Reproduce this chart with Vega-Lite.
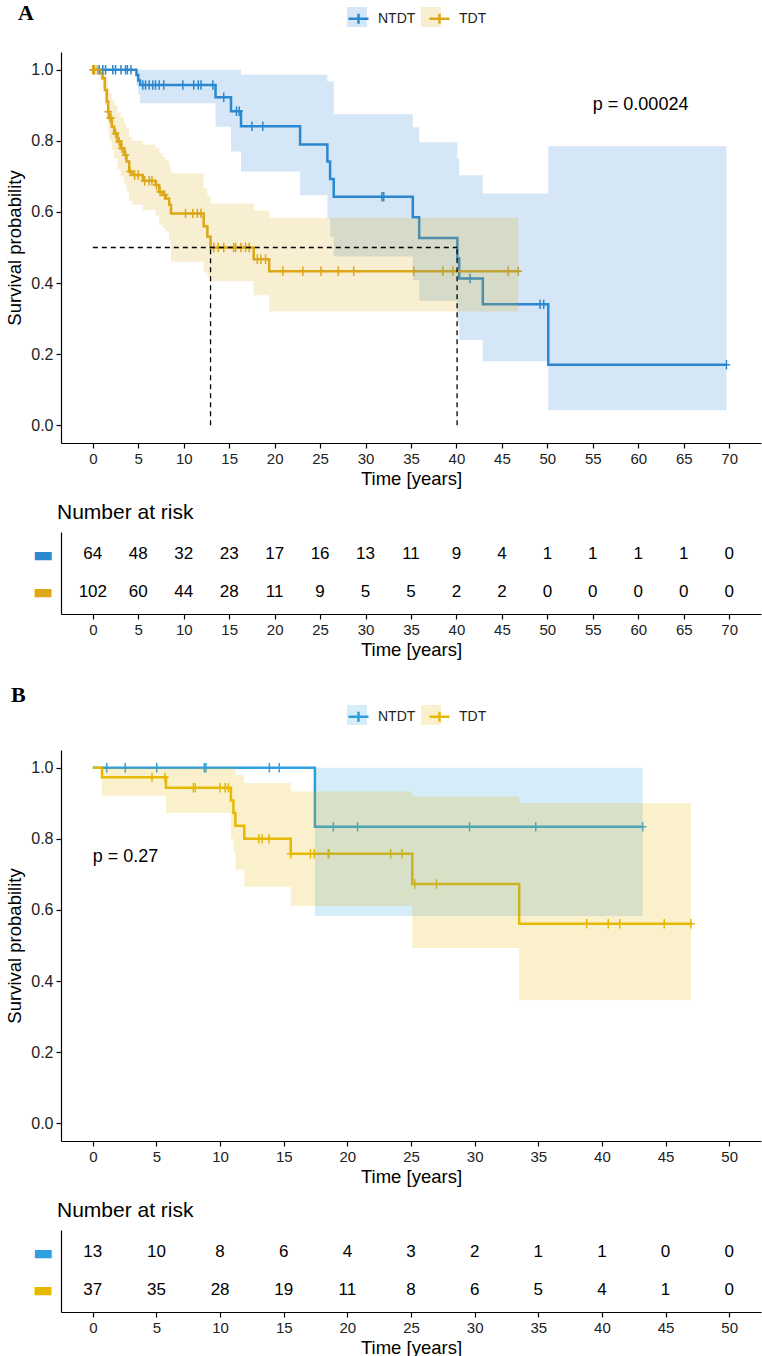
{
  "$schema": "https://vega.github.io/schema/vega-lite/v6.json",
  "padding": {"left": 5, "top": 2, "right": 2, "bottom": 1},
  "background": "white",
  "config": {
    "view": {"stroke": null},
    "font": "Liberation Sans",
    "axis": {"domainColor": "black", "domainWidth": 1.2, "tickColor": "black", "tickWidth": 1.2, "tickSize": 5, "labelFontSize": 15, "labelColor": "#222222", "labelFont": "Liberation Sans", "titleFont": "Liberation Sans", "titleFontSize": 18.5, "titleFontWeight": "normal", "titleColor": "black", "grid": false, "labelPadding": 3, "titlePadding": 3},
    "legend": {"labelFont": "Liberation Sans", "labelFontSize": 14, "labelColor": "#222222"}
  },
  "datasets": {
    "kmA": [
      {"group": "NTDT", "t": 0, "S": 1, "lo": 1, "hi": 1},
      {"group": "NTDT", "t": 4.8, "S": 0.985, "lo": 0.955, "hi": 1},
      {"group": "NTDT", "t": 5.0, "S": 0.97, "lo": 0.93, "hi": 1},
      {"group": "NTDT", "t": 5.2, "S": 0.957, "lo": 0.906, "hi": 1},
      {"group": "NTDT", "t": 13.5, "S": 0.923, "lo": 0.84, "hi": 1},
      {"group": "NTDT", "t": 15.2, "S": 0.883, "lo": 0.77, "hi": 1},
      {"group": "NTDT", "t": 16.3, "S": 0.841, "lo": 0.714, "hi": 0.986},
      {"group": "NTDT", "t": 22.8, "S": 0.79, "lo": 0.647, "hi": 0.986},
      {"group": "NTDT", "t": 25.8, "S": 0.742, "lo": 0.582, "hi": 0.967},
      {"group": "NTDT", "t": 26.1, "S": 0.693, "lo": 0.53, "hi": 0.967},
      {"group": "NTDT", "t": 26.5, "S": 0.643, "lo": 0.475, "hi": 0.875},
      {"group": "NTDT", "t": 35.2, "S": 0.585, "lo": 0.408, "hi": 0.838},
      {"group": "NTDT", "t": 35.9, "S": 0.527, "lo": 0.35, "hi": 0.796},
      {"group": "NTDT", "t": 40.1, "S": 0.47, "lo": 0.29, "hi": 0.75},
      {"group": "NTDT", "t": 40.3, "S": 0.413, "lo": 0.24, "hi": 0.703},
      {"group": "NTDT", "t": 42.9, "S": 0.34, "lo": 0.18, "hi": 0.652},
      {"group": "NTDT", "t": 50.1, "S": 0.17, "lo": 0.042, "hi": 0.785},
      {"group": "NTDT", "t": 69.7, "S": 0.17, "lo": 0.042, "hi": 0.785},
      {"group": "TDT", "t": 0, "S": 1, "lo": 1, "hi": 1},
      {"group": "TDT", "t": 0.8, "S": 0.99, "lo": 0.97, "hi": 1},
      {"group": "TDT", "t": 1.07, "S": 0.976, "lo": 0.95, "hi": 1},
      {"group": "TDT", "t": 1.32, "S": 0.943, "lo": 0.9, "hi": 0.99},
      {"group": "TDT", "t": 1.54, "S": 0.91, "lo": 0.86, "hi": 0.97},
      {"group": "TDT", "t": 1.69, "S": 0.882, "lo": 0.83, "hi": 0.95},
      {"group": "TDT", "t": 1.8, "S": 0.864, "lo": 0.8, "hi": 0.935},
      {"group": "TDT", "t": 2.09, "S": 0.84, "lo": 0.775, "hi": 0.915},
      {"group": "TDT", "t": 2.35, "S": 0.821, "lo": 0.75, "hi": 0.9},
      {"group": "TDT", "t": 2.71, "S": 0.798, "lo": 0.72, "hi": 0.88},
      {"group": "TDT", "t": 3.08, "S": 0.779, "lo": 0.7, "hi": 0.865},
      {"group": "TDT", "t": 3.45, "S": 0.76, "lo": 0.68, "hi": 0.85},
      {"group": "TDT", "t": 3.7, "S": 0.742, "lo": 0.66, "hi": 0.835},
      {"group": "TDT", "t": 4.0, "S": 0.714, "lo": 0.63, "hi": 0.81},
      {"group": "TDT", "t": 4.37, "S": 0.704, "lo": 0.62, "hi": 0.8},
      {"group": "TDT", "t": 5.5, "S": 0.688, "lo": 0.605, "hi": 0.79},
      {"group": "TDT", "t": 6.9, "S": 0.676, "lo": 0.59, "hi": 0.78},
      {"group": "TDT", "t": 7.3, "S": 0.657, "lo": 0.565, "hi": 0.765},
      {"group": "TDT", "t": 7.7, "S": 0.648, "lo": 0.555, "hi": 0.755},
      {"group": "TDT", "t": 8.0, "S": 0.638, "lo": 0.545, "hi": 0.745},
      {"group": "TDT", "t": 8.4, "S": 0.62, "lo": 0.52, "hi": 0.73},
      {"group": "TDT", "t": 8.6, "S": 0.596, "lo": 0.46, "hi": 0.709},
      {"group": "TDT", "t": 12.2, "S": 0.56, "lo": 0.43, "hi": 0.667},
      {"group": "TDT", "t": 12.6, "S": 0.53, "lo": 0.415, "hi": 0.645},
      {"group": "TDT", "t": 12.95, "S": 0.5, "lo": 0.405, "hi": 0.624},
      {"group": "TDT", "t": 17.7, "S": 0.467, "lo": 0.366, "hi": 0.604},
      {"group": "TDT", "t": 19.4, "S": 0.433, "lo": 0.32, "hi": 0.584},
      {"group": "TDT", "t": 46.8, "S": 0.433, "lo": 0.32, "hi": 0.584}
    ],
    "censA": [
      {"group": "NTDT", "t": 0.1, "S": 1}, {"group": "NTDT", "t": 0.7, "S": 1}, {"group": "NTDT", "t": 1.1, "S": 1}, {"group": "NTDT", "t": 1.4, "S": 1},
      {"group": "NTDT", "t": 2.2, "S": 1}, {"group": "NTDT", "t": 2.5, "S": 1}, {"group": "NTDT", "t": 3.1, "S": 1}, {"group": "NTDT", "t": 3.6, "S": 1},
      {"group": "NTDT", "t": 3.8, "S": 1}, {"group": "NTDT", "t": 4.2, "S": 1},
      {"group": "NTDT", "t": 5.5, "S": 0.957}, {"group": "NTDT", "t": 5.8, "S": 0.957}, {"group": "NTDT", "t": 6.2, "S": 0.957}, {"group": "NTDT", "t": 6.6, "S": 0.957},
      {"group": "NTDT", "t": 6.9, "S": 0.957}, {"group": "NTDT", "t": 7.3, "S": 0.957}, {"group": "NTDT", "t": 7.8, "S": 0.957}, {"group": "NTDT", "t": 9.9, "S": 0.957},
      {"group": "NTDT", "t": 11.1, "S": 0.957}, {"group": "NTDT", "t": 11.6, "S": 0.957}, {"group": "NTDT", "t": 11.9, "S": 0.957}, {"group": "NTDT", "t": 13.2, "S": 0.957},
      {"group": "NTDT", "t": 14.4, "S": 0.923}, {"group": "NTDT", "t": 15.8, "S": 0.883}, {"group": "NTDT", "t": 16.1, "S": 0.883},
      {"group": "NTDT", "t": 17.5, "S": 0.841}, {"group": "NTDT", "t": 18.7, "S": 0.841},
      {"group": "NTDT", "t": 31.8, "S": 0.643}, {"group": "NTDT", "t": 32.0, "S": 0.643},
      {"group": "NTDT", "t": 41.5, "S": 0.413}, {"group": "NTDT", "t": 49.2, "S": 0.34}, {"group": "NTDT", "t": 49.6, "S": 0.34}, {"group": "NTDT", "t": 69.7, "S": 0.17},
      {"group": "TDT", "t": 0.0, "S": 1}, {"group": "TDT", "t": 0.2, "S": 1}, {"group": "TDT", "t": 0.5, "S": 1},
      {"group": "TDT", "t": 1.7, "S": 0.882}, {"group": "TDT", "t": 1.9, "S": 0.864}, {"group": "TDT", "t": 2.0, "S": 0.864}, {"group": "TDT", "t": 2.5, "S": 0.821},
      {"group": "TDT", "t": 2.9, "S": 0.798}, {"group": "TDT", "t": 3.2, "S": 0.779}, {"group": "TDT", "t": 3.6, "S": 0.76}, {"group": "TDT", "t": 4.1, "S": 0.714},
      {"group": "TDT", "t": 4.6, "S": 0.704}, {"group": "TDT", "t": 5.0, "S": 0.704}, {"group": "TDT", "t": 5.7, "S": 0.688}, {"group": "TDT", "t": 6.2, "S": 0.688},
      {"group": "TDT", "t": 6.5, "S": 0.688}, {"group": "TDT", "t": 7.0, "S": 0.676}, {"group": "TDT", "t": 7.4, "S": 0.657}, {"group": "TDT", "t": 7.9, "S": 0.648},
      {"group": "TDT", "t": 10.2, "S": 0.596}, {"group": "TDT", "t": 11.0, "S": 0.596}, {"group": "TDT", "t": 11.5, "S": 0.596}, {"group": "TDT", "t": 11.9, "S": 0.596},
      {"group": "TDT", "t": 13.3, "S": 0.5}, {"group": "TDT", "t": 13.8, "S": 0.5}, {"group": "TDT", "t": 14.4, "S": 0.5}, {"group": "TDT", "t": 15.5, "S": 0.5},
      {"group": "TDT", "t": 15.7, "S": 0.5}, {"group": "TDT", "t": 16.3, "S": 0.5}, {"group": "TDT", "t": 16.8, "S": 0.5}, {"group": "TDT", "t": 17.2, "S": 0.5},
      {"group": "TDT", "t": 18.1, "S": 0.467}, {"group": "TDT", "t": 18.5, "S": 0.467}, {"group": "TDT", "t": 19.0, "S": 0.467},
      {"group": "TDT", "t": 20.9, "S": 0.433}, {"group": "TDT", "t": 23.1, "S": 0.433}, {"group": "TDT", "t": 25.1, "S": 0.433}, {"group": "TDT", "t": 27.0, "S": 0.433},
      {"group": "TDT", "t": 28.7, "S": 0.433}, {"group": "TDT", "t": 35.3, "S": 0.433}, {"group": "TDT", "t": 38.5, "S": 0.433}, {"group": "TDT", "t": 39.6, "S": 0.433},
      {"group": "TDT", "t": 45.7, "S": 0.433}, {"group": "TDT", "t": 46.8, "S": 0.433}
    ],
    "medA": [
      {"t": 0, "t2": 40.07, "S": 0.5, "S2": 0.5},
      {"t": 12.95, "t2": 12.95, "S": 0, "S2": 0.5},
      {"t": 40.07, "t2": 40.07, "S": 0, "S2": 0.5}
    ],
    "pA": [{"t": 55, "S": 0.9, "label": "p = 0.00024"}],
    "riskA": [
      {"group": "NTDT", "t": 0, "n": 64}, {"group": "NTDT", "t": 5, "n": 48}, {"group": "NTDT", "t": 10, "n": 32}, {"group": "NTDT", "t": 15, "n": 23},
      {"group": "NTDT", "t": 20, "n": 17}, {"group": "NTDT", "t": 25, "n": 16}, {"group": "NTDT", "t": 30, "n": 13}, {"group": "NTDT", "t": 35, "n": 11},
      {"group": "NTDT", "t": 40, "n": 9}, {"group": "NTDT", "t": 45, "n": 4}, {"group": "NTDT", "t": 50, "n": 1}, {"group": "NTDT", "t": 55, "n": 1},
      {"group": "NTDT", "t": 60, "n": 1}, {"group": "NTDT", "t": 65, "n": 1}, {"group": "NTDT", "t": 70, "n": 0},
      {"group": "TDT", "t": 0, "n": 102}, {"group": "TDT", "t": 5, "n": 60}, {"group": "TDT", "t": 10, "n": 44}, {"group": "TDT", "t": 15, "n": 28},
      {"group": "TDT", "t": 20, "n": 11}, {"group": "TDT", "t": 25, "n": 9}, {"group": "TDT", "t": 30, "n": 5}, {"group": "TDT", "t": 35, "n": 5},
      {"group": "TDT", "t": 40, "n": 2}, {"group": "TDT", "t": 45, "n": 2}, {"group": "TDT", "t": 50, "n": 0}, {"group": "TDT", "t": 55, "n": 0},
      {"group": "TDT", "t": 60, "n": 0}, {"group": "TDT", "t": 65, "n": 0}, {"group": "TDT", "t": 70, "n": 0}
    ],
    "kmB": [
      {"group": "NTDT", "t": 0, "S": 1, "lo": 1, "hi": 1},
      {"group": "NTDT", "t": 17.45, "S": 0.834, "lo": 0.583, "hi": 1},
      {"group": "NTDT", "t": 43.2, "S": 0.834, "lo": 0.583, "hi": 1},
      {"group": "TDT", "t": 0, "S": 1, "lo": 1, "hi": 1},
      {"group": "TDT", "t": 0.72, "S": 0.973, "lo": 0.921, "hi": 1},
      {"group": "TDT", "t": 5.75, "S": 0.944, "lo": 0.873, "hi": 1},
      {"group": "TDT", "t": 10.85, "S": 0.908, "lo": 0.8, "hi": 1},
      {"group": "TDT", "t": 11.05, "S": 0.873, "lo": 0.76, "hi": 1},
      {"group": "TDT", "t": 11.2, "S": 0.837, "lo": 0.713, "hi": 0.98},
      {"group": "TDT", "t": 11.9, "S": 0.8, "lo": 0.665, "hi": 0.957},
      {"group": "TDT", "t": 15.55, "S": 0.758, "lo": 0.611, "hi": 0.933},
      {"group": "TDT", "t": 25.1, "S": 0.673, "lo": 0.493, "hi": 0.919},
      {"group": "TDT", "t": 33.5, "S": 0.561, "lo": 0.346, "hi": 0.901},
      {"group": "TDT", "t": 47.0, "S": 0.561, "lo": 0.346, "hi": 0.901}
    ],
    "censB": [
      {"group": "NTDT", "t": 1.09, "S": 1}, {"group": "NTDT", "t": 2.55, "S": 1}, {"group": "NTDT", "t": 5.02, "S": 1}, {"group": "NTDT", "t": 8.76, "S": 1},
      {"group": "NTDT", "t": 8.89, "S": 1}, {"group": "NTDT", "t": 13.87, "S": 1}, {"group": "NTDT", "t": 14.65, "S": 1},
      {"group": "NTDT", "t": 18.9, "S": 0.834}, {"group": "NTDT", "t": 20.8, "S": 0.834}, {"group": "NTDT", "t": 29.6, "S": 0.834}, {"group": "NTDT", "t": 34.8, "S": 0.834}, {"group": "NTDT", "t": 43.2, "S": 0.834},
      {"group": "TDT", "t": 4.65, "S": 0.973}, {"group": "TDT", "t": 5.67, "S": 0.973},
      {"group": "TDT", "t": 7.9, "S": 0.944}, {"group": "TDT", "t": 8.05, "S": 0.944}, {"group": "TDT", "t": 10.0, "S": 0.944}, {"group": "TDT", "t": 10.4, "S": 0.944}, {"group": "TDT", "t": 10.65, "S": 0.944},
      {"group": "TDT", "t": 13.05, "S": 0.8}, {"group": "TDT", "t": 13.3, "S": 0.8}, {"group": "TDT", "t": 13.85, "S": 0.8},
      {"group": "TDT", "t": 15.55, "S": 0.758}, {"group": "TDT", "t": 17.1, "S": 0.758}, {"group": "TDT", "t": 17.4, "S": 0.758}, {"group": "TDT", "t": 18.5, "S": 0.758},
      {"group": "TDT", "t": 18.55, "S": 0.758}, {"group": "TDT", "t": 23.4, "S": 0.758}, {"group": "TDT", "t": 24.3, "S": 0.758},
      {"group": "TDT", "t": 25.3, "S": 0.673}, {"group": "TDT", "t": 27.0, "S": 0.673},
      {"group": "TDT", "t": 38.8, "S": 0.561}, {"group": "TDT", "t": 40.5, "S": 0.561}, {"group": "TDT", "t": 41.4, "S": 0.561}, {"group": "TDT", "t": 44.9, "S": 0.561}, {"group": "TDT", "t": 47.0, "S": 0.561}
    ],
    "pB": [{"t": 0, "S": 0.75, "label": "p = 0.27"}],
    "riskB": [
      {"group": "NTDT", "t": 0, "n": 13}, {"group": "NTDT", "t": 5, "n": 10}, {"group": "NTDT", "t": 10, "n": 8}, {"group": "NTDT", "t": 15, "n": 6},
      {"group": "NTDT", "t": 20, "n": 4}, {"group": "NTDT", "t": 25, "n": 3}, {"group": "NTDT", "t": 30, "n": 2}, {"group": "NTDT", "t": 35, "n": 1},
      {"group": "NTDT", "t": 40, "n": 1}, {"group": "NTDT", "t": 45, "n": 0}, {"group": "NTDT", "t": 50, "n": 0},
      {"group": "TDT", "t": 0, "n": 37}, {"group": "TDT", "t": 5, "n": 35}, {"group": "TDT", "t": 10, "n": 28}, {"group": "TDT", "t": 15, "n": 19},
      {"group": "TDT", "t": 20, "n": 11}, {"group": "TDT", "t": 25, "n": 8}, {"group": "TDT", "t": 30, "n": 6}, {"group": "TDT", "t": 35, "n": 5},
      {"group": "TDT", "t": 40, "n": 4}, {"group": "TDT", "t": 45, "n": 1}, {"group": "TDT", "t": 50, "n": 0}
    ]
  },
  "spacing": 25,
  "resolve": {"scale": {"x": "independent", "y": "independent", "stroke": "independent", "fill": "independent"}, "legend": {"stroke": "independent", "fill": "independent"}},
  "vconcat": [
    {
      "spacing": 14,
      "resolve": {"scale": {"x": "independent", "y": "independent", "stroke": "independent", "fill": "independent"}, "legend": {"stroke": "independent", "fill": "independent"}},
      "vconcat": [
        {
          "width": 700,
          "height": 391,
          "title": {"text": "A", "anchor": "start", "frame": "group", "dx": -43, "font": "Liberation Serif", "fontWeight": "bold", "fontSize": 22, "color": "black", "offset": -18},
          "layer": [
            {
              "data": {"name": "kmA"},
              "mark": {"type": "line", "interpolate": "step-after", "strokeWidth": 2.5},
              "encoding": {
                "x": {"field": "t", "type": "quantitative", "scale": {"domain": [-3.5, 73.5], "nice": false, "zero": false}, "axis": {"values": [0, 5, 10, 15, 20, 25, 30, 35, 40, 45, 50, 55, 60, 65, 70], "title": "Time [years]"}},
                "y": {"field": "S", "type": "quantitative", "scale": {"domain": [-0.05, 1.05], "nice": false, "zero": false}, "axis": {"values": [0, 0.1, 0.2, 0.3, 0.4, 0.5, 0.6, 0.7, 0.8, 0.9, 1.0], "format": ".1f", "title": "Survival probability", "titlePadding": 6, "labelFontSize": 16}},
                "stroke": {"field": "group", "type": "nominal", "scale": {"range": ["#2B89D0", "#DCA818"]}, "legend": {"orient": "none", "legendX": 286, "legendY": -45, "direction": "horizontal", "title": null, "symbolType": "M-1,0H1M0,-0.5V0.5", "symbolSize": 400, "symbolStrokeWidth": 2.5, "symbolFillColor": "transparent", "labelOffset": 8, "columnPadding": 8}}
              }
            },
            {
              "data": {"name": "censA"},
              "mark": {"type": "point", "shape": "M0,-1V1M-0.8,0H0.8", "filled": false, "size": 90, "strokeWidth": 1.5, "opacity": 1},
              "encoding": {
                "x": {"field": "t", "type": "quantitative"},
                "y": {"field": "S", "type": "quantitative"},
                "stroke": {"field": "group", "type": "nominal"}
              }
            },
            {
              "data": {"name": "kmA"},
              "mark": {"type": "area", "interpolate": "step-after", "opacity": 0.2},
              "encoding": {
                "x": {"field": "t", "type": "quantitative"},
                "y": {"field": "lo", "type": "quantitative", "stack": null},
                "y2": {"field": "hi"},
                "fill": {"field": "group", "type": "nominal", "scale": {"domain": ["NTDT", "TDT"], "range": ["#2B89D0", "#DCA818"]}, "legend": {"orient": "none", "legendX": 286, "legendY": -45, "direction": "horizontal", "title": null, "symbolType": "square", "symbolSize": 400, "symbolOpacity": 0.2, "symbolStrokeWidth": 0, "labelOffset": 8, "columnPadding": 8, "labelOpacity": 0}}
              }
            },
            {
              "data": {"name": "medA"},
              "mark": {"type": "rule", "strokeDash": [5, 4], "color": "black", "strokeWidth": 1.3},
              "encoding": {
                "x": {"field": "t", "type": "quantitative"},
                "x2": {"field": "t2"},
                "y": {"field": "S", "type": "quantitative"},
                "y2": {"field": "S2"}
              }
            },
            {
              "data": {"name": "pA"},
              "mark": {"type": "text", "align": "left", "baseline": "middle", "fontSize": 18, "color": "black"},
              "encoding": {
                "x": {"field": "t", "type": "quantitative"},
                "y": {"field": "S", "type": "quantitative"},
                "text": {"field": "label"}
              }
            }
          ]
        },
        {
          "width": 700,
          "height": 82,
          "title": {"text": "Number at risk", "anchor": "start", "frame": "group", "dx": -4, "font": "Liberation Sans", "fontSize": 21, "fontWeight": "normal", "color": "black", "offset": 9},
          "data": {"name": "riskA"},
          "mark": {"type": "text", "fontSize": 17, "color": "black"},
          "encoding": {
            "x": {"field": "t", "type": "quantitative", "scale": {"domain": [-3.5, 73.5], "nice": false, "zero": false}, "axis": {"values": [0, 5, 10, 15, 20, 25, 30, 35, 40, 45, 50, 55, 60, 65, 70], "title": "Time [years]"}},
            "y": {"field": "group", "type": "nominal", "scale": {"type": "point", "padding": 0.6, "domain": ["NTDT", "TDT"]}, "axis": {"title": null, "ticks": false, "labelExpr": "'▬'", "labelFont": "DejaVu Sans", "labelFontSize": 22, "labelPadding": 8, "labelColor": {"condition": {"test": "datum.value === 'NTDT'", "value": "#2B89D0"}, "value": "#DCA818"}}},
            "text": {"field": "n", "type": "quantitative"}
          }
        }
      ]
    },
    {
      "spacing": 14,
      "resolve": {"scale": {"x": "independent", "y": "independent", "stroke": "independent", "fill": "independent"}, "legend": {"stroke": "independent", "fill": "independent"}},
      "vconcat": [
        {
          "width": 700,
          "height": 391,
          "title": {"text": "B", "anchor": "start", "frame": "group", "dx": -50, "font": "Liberation Serif", "fontWeight": "bold", "fontSize": 22, "color": "black", "offset": -2},
          "layer": [
            {
              "data": {"name": "kmB"},
              "mark": {"type": "line", "interpolate": "step-after", "strokeWidth": 2.5},
              "encoding": {
                "x": {"field": "t", "type": "quantitative", "scale": {"domain": [-2.5, 52.5], "nice": false, "zero": false}, "axis": {"values": [0, 5, 10, 15, 20, 25, 30, 35, 40, 45, 50], "title": "Time [years]"}},
                "y": {"field": "S", "type": "quantitative", "scale": {"domain": [-0.05, 1.05], "nice": false, "zero": false}, "axis": {"values": [0, 0.1, 0.2, 0.3, 0.4, 0.5, 0.6, 0.7, 0.8, 0.9, 1.0], "format": ".1f", "title": "Survival probability", "titlePadding": 6, "labelFontSize": 16}},
                "stroke": {"field": "group", "type": "nominal", "scale": {"range": ["#2E9FDF", "#E7B800"]}, "legend": {"orient": "none", "legendX": 286, "legendY": -45, "direction": "horizontal", "title": null, "symbolType": "M-1,0H1M0,-0.5V0.5", "symbolSize": 400, "symbolStrokeWidth": 2.5, "symbolFillColor": "transparent", "labelOffset": 8, "columnPadding": 8}}
              }
            },
            {
              "data": {"name": "censB"},
              "mark": {"type": "point", "shape": "M0,-1V1M-0.8,0H0.8", "filled": false, "size": 90, "strokeWidth": 1.5, "opacity": 1},
              "encoding": {
                "x": {"field": "t", "type": "quantitative"},
                "y": {"field": "S", "type": "quantitative"},
                "stroke": {"field": "group", "type": "nominal"}
              }
            },
            {
              "data": {"name": "kmB"},
              "mark": {"type": "area", "interpolate": "step-after", "opacity": 0.2},
              "encoding": {
                "x": {"field": "t", "type": "quantitative"},
                "y": {"field": "lo", "type": "quantitative", "stack": null},
                "y2": {"field": "hi"},
                "fill": {"field": "group", "type": "nominal", "scale": {"domain": ["NTDT", "TDT"], "range": ["#2E9FDF", "#E7B800"]}, "legend": {"orient": "none", "legendX": 286, "legendY": -45, "direction": "horizontal", "title": null, "symbolType": "square", "symbolSize": 400, "symbolOpacity": 0.2, "symbolStrokeWidth": 0, "labelOffset": 8, "columnPadding": 8, "labelOpacity": 0}}
              }
            },
            {
              "data": {"name": "pB"},
              "mark": {"type": "text", "align": "left", "baseline": "middle", "fontSize": 18, "color": "black"},
              "encoding": {
                "x": {"field": "t", "type": "quantitative"},
                "y": {"field": "S", "type": "quantitative"},
                "text": {"field": "label"}
              }
            }
          ]
        },
        {
          "width": 700,
          "height": 82,
          "title": {"text": "Number at risk", "anchor": "start", "frame": "group", "dx": -4, "font": "Liberation Sans", "fontSize": 21, "fontWeight": "normal", "color": "black", "offset": 9},
          "data": {"name": "riskB"},
          "mark": {"type": "text", "fontSize": 17, "color": "black"},
          "encoding": {
            "x": {"field": "t", "type": "quantitative", "scale": {"domain": [-2.5, 52.5], "nice": false, "zero": false}, "axis": {"values": [0, 5, 10, 15, 20, 25, 30, 35, 40, 45, 50], "title": "Time [years]"}},
            "y": {"field": "group", "type": "nominal", "scale": {"type": "point", "padding": 0.6, "domain": ["NTDT", "TDT"]}, "axis": {"title": null, "ticks": false, "labelExpr": "'▬'", "labelFont": "DejaVu Sans", "labelFontSize": 22, "labelPadding": 8, "labelColor": {"condition": {"test": "datum.value === 'NTDT'", "value": "#2E9FDF"}, "value": "#E7B800"}}},
            "text": {"field": "n", "type": "quantitative"}
          }
        }
      ]
    }
  ]
}
